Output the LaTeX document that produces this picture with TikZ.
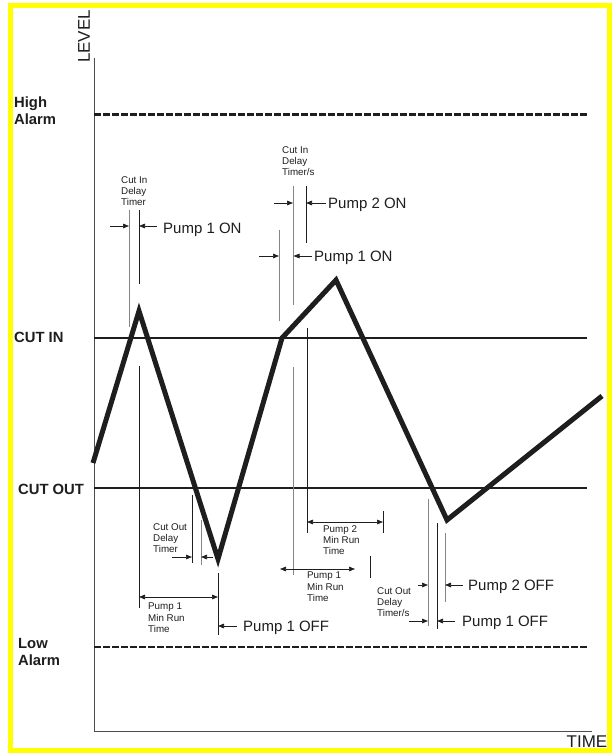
\documentclass[tikz,border=0pt]{standalone}
\usepackage{fontspec}
\setmainfont{Liberation Sans}
\usetikzlibrary{arrows.meta}
\definecolor{ink}{HTML}{1E1E1E}
\definecolor{greyline}{HTML}{858585}
\definecolor{frameyellow}{HTML}{FFFF00}
\begin{document}
\begin{tikzpicture}[x=1pt,y=-1pt,
  blk/.style={line width=0.8pt, draw=ink},
  gry/.style={line width=0.9pt, draw=greyline},
  arr/.style={line width=0.7pt, draw=ink, -{Triangle[length=6pt,width=4.6pt]}},
  darr/.style={line width=0.7pt, draw=ink, {Triangle[length=6pt,width=4.6pt]}-{Triangle[length=6pt,width=4.6pt]}},
  lab/.style={font=\fontsize{15}{17}\selectfont, anchor=base west, inner sep=0pt, text=ink},
  smalltxt/.style={font=\fontsize{9.8}{11.3}\selectfont, align=left, anchor=north west, inner sep=0pt, text=ink},
  boldlab/.style={font=\bfseries\fontsize{14.8}{17}\selectfont, align=left, inner sep=0pt, text=ink},
  axislab/.style={font=\fontsize{17}{19}\selectfont, inner sep=0pt, text=ink},
  alarmline/.style={line width=2.8pt, draw=ink, dash pattern=on 6.5pt off 2.5pt},
  levelline/.style={line width=2pt, draw=ink},
  trace/.style={line width=5pt, draw=ink, line join=miter, miter limit=10}
]
\useasboundingbox (0,0) rectangle (612,753);
\fill[white] (0,0) rectangle (612,753);
% yellow frame
\draw[frameyellow, line width=5pt] (10.5,5.5) rectangle (609.5,750.5);

% axes
\draw[line width=1pt, draw=black!70] (94,58) -- (94,731.5) -- (592,731.5);
\node[axislab, rotate=90] (level) at (84,36.5) {LEVEL};
\node[axislab] (time) at (587,741.5) {TIME};

% alarm and level lines
\draw[alarmline] (94,114.5) -- (588,114.5);
\draw[alarmline] (94,647) -- (588,647);
\draw[levelline] (94,338) -- (587,338);
\draw[levelline] (94,488) -- (587,488);

\node[boldlab, anchor=north west] (high) at (14,97) {High\\Alarm};
\node[boldlab, anchor=north west] (low) at (18,638) {Low\\Alarm};
\node[boldlab, anchor=west] (cutin) at (14,337.5) {CUT IN};
\node[boldlab, anchor=west] (cutout) at (18,489) {CUT OUT};

% level trace
\draw[trace] (93,463) -- (139,311) -- (218,559) -- (282,338) -- (336,280) -- (447,520) -- (602,396);

% ---- first cut in delay
\draw[gry] (129,210) -- (129,327);
\draw[blk] (139,210) -- (139,284);
\draw[arr] (110,226) -- (129,226);
\draw[arr] (157,226) -- (139,226);
\node[smalltxt] (cid1) at (121,176) {Cut In\\Delay\\Timer};
\node[lab] (p1on1) at (163,233.5) {Pump 1 ON};

% ---- second cut in delay
\draw[gry] (279,230) -- (279,321);
\draw[gry] (293,186) -- (293,305);
\draw[blk] (306,186) -- (306,243);
\draw[arr] (274,203) -- (293,203);
\draw[arr] (326,203) -- (306,203);
\draw[arr] (259,256) -- (279,256);
\draw[arr] (312,256) -- (293.5,256);
\node[smalltxt] (cid2) at (282,146) {Cut In\\Delay\\Timer/s};
\node[lab] (p2on) at (328,208.4) {Pump 2 ON};
\node[lab] (p1on2) at (314,261.6) {Pump 1 ON};

% ---- first cut out delay and min run
\draw[blk] (192,495) -- (192,563);
\draw[gry] (201,520) -- (201,565);
\draw[arr] (172,557) -- (192,557);
\draw[arr] (213,557) -- (201,557);
\node[smalltxt] (cod1) at (153,523) {Cut Out\\Delay\\Timer};

\draw[blk] (139,366) -- (139,608);
\draw[blk] (218,573) -- (218,635);
\draw[darr] (139,597) -- (218,597);
\node[smalltxt] (mr1) at (148,603) {Pump 1\\Min Run\\Time};
\draw[arr] (237,626) -- (218,626);
\node[lab] (p1off1) at (243,631.4) {Pump 1 OFF};

% ---- second min run timers
\draw[gry] (293,367) -- (293,575);
\draw[blk] (307,328) -- (307,533);
\draw[blk] (383,511) -- (383,533);
\draw[darr] (307,522) -- (383,522);
\node[smalltxt] (mr2) at (323,525) {Pump 2\\Min Run\\Time};
\draw[blk] (370,556) -- (370,578);
\draw[darr] (280,569) -- (355,569);
\node[smalltxt] (mr3) at (307,572) {Pump 1\\Min Run\\Time};

% ---- second cut out delay
\draw[gry] (428,499) -- (428,626);
\draw[blk] (437,523) -- (437,629);
\draw[gry] (445,533) -- (445,602);
\draw[arr] (418,585) -- (428,585);
\draw[arr] (463,585) -- (445,585);
\draw[arr] (409,621) -- (428,621);
\draw[arr] (455,621) -- (437,621);
\node[smalltxt] (cod2) at (377,587) {Cut Out\\Delay\\Timer/s};
\node[lab] (p2off) at (468,590.4) {Pump 2 OFF};
\node[lab] (p1off2) at (462,626.1) {Pump 1 OFF};
\end{tikzpicture}
\end{document}
